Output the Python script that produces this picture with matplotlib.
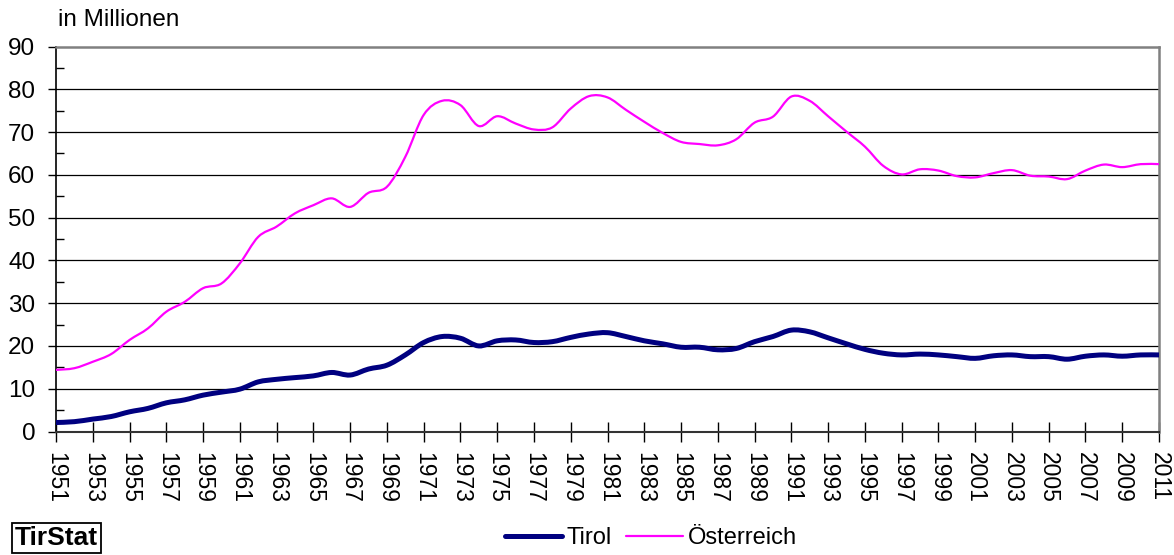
import matplotlib
matplotlib.use("Agg")
import matplotlib.pyplot as plt
from matplotlib.path import Path
from matplotlib.patches import PathPatch
from matplotlib.lines import Line2D
import numpy as np

plt.rcParams['font.family'] = ['Liberation Sans', 'DejaVu Sans']

# Übernachtungen in Millionen, 1951-2011
years = list(range(1951, 2012))

tirol = [2.1, 2.3, 2.9, 3.5, 4.6, 5.4, 6.7, 7.4, 8.5, 9.2,
         9.9, 11.6, 12.2, 12.6, 13.0, 13.8, 13.2, 14.6, 15.5, 17.9,
         20.8, 22.2, 21.8, 20.0, 21.2, 21.4, 20.8, 21.0, 22.0, 22.8,
         23.1, 22.2, 21.2, 20.5, 19.7, 19.7, 19.1, 19.4, 21.0, 22.2,
         23.7, 23.3, 21.9, 20.5, 19.2, 18.3, 17.9, 18.1, 17.9, 17.5,
         17.1, 17.7, 17.9, 17.5, 17.5, 16.9, 17.6, 17.9, 17.6, 17.9,
         17.9]

oesterreich = [14.4, 14.8, 16.3, 18.1, 21.4, 24.1, 28.0, 30.3, 33.5, 34.6,
               39.3, 45.5, 47.9, 51.0, 52.9, 54.5, 52.5, 55.8, 57.2, 64.2,
               74.0, 77.3, 76.3, 71.4, 73.7, 72.0, 70.6, 71.1, 75.5, 78.4,
               78.1, 75.2, 72.4, 69.8, 67.7, 67.2, 66.9, 68.3, 72.2, 73.6,
               78.3, 77.3, 73.7, 70.1, 66.6, 62.1, 60.1, 61.3, 61.0, 59.7,
               59.4, 60.4, 61.1, 59.8, 59.6, 59.0, 61.0, 62.4, 61.8, 62.5,
               62.5]

series_names = ['Tirol', 'Österreich']
colors = {'Tirol': '#000080', 'Österreich': '#ff00ff'}
widths = {'Tirol': 3.6, 'Österreich': 1.6}


def smooth_path(x, y):
    # Excel-style smoothed line: Bezier segments through every point
    pts = np.column_stack([x, y]).astype(float)
    n = len(pts)
    verts = [pts[0]]
    codes = [Path.MOVETO]
    for i in range(n - 1):
        p0 = pts[i - 1] if i > 0 else pts[i]
        p1 = pts[i]
        p2 = pts[i + 1]
        p3 = pts[i + 2] if i + 2 < n else pts[i + 1]
        c1 = p1 + (p2 - p0) / 6.0
        c2 = p2 - (p3 - p1) / 6.0
        verts += [c1, c2, p2]
        codes += [Path.CURVE4] * 3
    return Path(verts, codes)


fig = plt.figure(figsize=(11.74, 5.55), dpi=100)
ax = fig.add_axes([56 / 1174, 123.5 / 555, 1103 / 1174, 385 / 555])

for name, vals in zip(series_names, [tirol, oesterreich]):
    patch = PathPatch(smooth_path(years, vals), fill=False,
                      edgecolor=colors[name], lw=widths[name],
                      capstyle='round', joinstyle='round', zorder=3)
    ax.add_patch(patch)

ax.set_xlim(1951, 2011)
ax.set_ylim(0, 90)

ax.set_yticks(range(0, 91, 10))
ax.set_yticks(range(5, 90, 10), minor=True)
ax.set_xticks(years[::2])
ax.set_xticklabels([str(y) for y in years[::2]], rotation=270, fontsize=16.5)
ax.tick_params(axis='y', which='major', direction='out', length=6,
               width=1, labelsize=17.5, pad=9)
ax.tick_params(axis='y', which='minor', direction='in', length=6, width=1)
ax.tick_params(axis='x', which='major', direction='inout', length=14,
               width=1, pad=8)

for v in range(10, 90, 10):
    ax.axhline(v, color='black', lw=0.9, zorder=1)

ax.spines['left'].set_color('black')
ax.spines['left'].set_linewidth(1.2)
ax.spines['bottom'].set_color('#333333')
ax.spines['bottom'].set_linewidth(1.5)
for s in ['top', 'right']:
    ax.spines[s].set_color('#808080')
    ax.spines[s].set_linewidth(1.8)

fig.text(58 / 1174, 1 - 20 / 555, 'in Millionen', fontsize=17.5,
         ha='left', va='center')

fig.text(15 / 1174, 1 - 538 / 555, 'TirStat', fontsize=19, weight='bold',
         ha='left', va='center',
         bbox=dict(boxstyle='square,pad=0.12', facecolor='white',
                   edgecolor='black', lw=1.3))

handles = [Line2D([], [], color=colors[n], lw=widths[n], solid_capstyle='round')
           for n in series_names]
fig.legend(handles, series_names, loc='center', ncol=2,
           bbox_to_anchor=(651 / 1174, 1 - 538 / 555), frameon=False,
           fontsize=17, handlelength=2.4, handletextpad=0.2,
           columnspacing=0.6, borderpad=0)

fig.savefig('out.png', dpi=100)
